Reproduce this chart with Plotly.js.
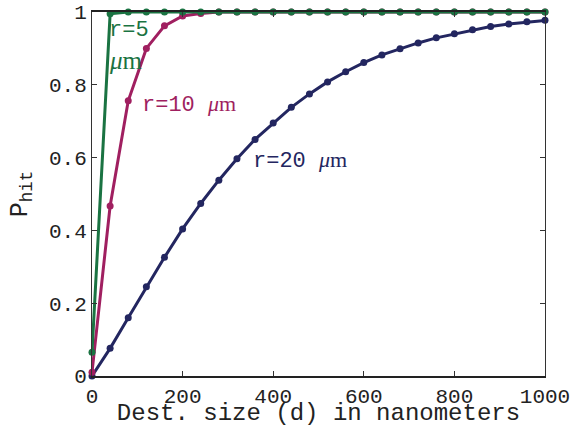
<!DOCTYPE html>
<html>
<head>
<meta charset="utf-8">
<script src="https://cdn.plot.ly/plotly-3.0.1.min.js"></script>
<style>html,body{margin:0;padding:0;background:#fff;}#chart{width:574px;height:427px;}</style>
</head>
<body>
<div id="chart"></div>
<script>
// Destination size d in nanometers (sample points every 40 nm)
const destSize = [0,40,80,120,160,200,240,280,320,360,400,440,480,520,560,600,640,680,720,760,800,840,880,920,960,1000];
// P_hit for r = 5 um
const pHitR5 = [0.065,0.995,1,1,1,1,1,1,1,1,1,1,1,1,1,1,1,1,1,1,1,1,1,1,1,1];
// P_hit for r = 10 um
const pHitR10 = [0.01,0.467,0.756,0.900,0.962,0.989,0.996,1,1,1,1,1,1,1,1,1,1,1,1,1,1,1,1,1,1,1];
// P_hit for r = 20 um
const pHitR20 = [0,0.076,0.160,0.245,0.326,0.404,0.474,0.538,0.597,0.650,0.695,0.738,0.775,0.808,0.836,0.861,0.882,0.899,0.915,0.929,0.940,0.951,0.960,0.967,0.973,0.977];

const xTicks = [0,200,400,600,800,1000];
const yTicks = [0,0.2,0.4,0.6,0.8,1];
const yTickText = ['0','0.2','0.4','0.6','0.8','1'];

const cGreen = '#1a7342';
const cMag = '#a01f60';
const cNavy = '#232660';
const mono = 'Liberation Mono, Courier New, monospace';

function series(y, color) {
  return {
    x: destSize, y: y, type: 'scatter', mode: 'lines+markers',
    line: {color: color, width: 3},
    marker: {color: color, size: 7},
    cliponaxis: false, showlegend: false, hoverinfo: 'skip'
  };
}

const data = [series(pHitR20, cNavy), series(pHitR10, cMag), series(pHitR5, cGreen)];

const mu = () => "<span style='font-family:Liberation Serif, Times New Roman, serif;font-style:italic'>μ</span><span style='font-family:Liberation Serif, Times New Roman, serif'>m</span>";

const layout = {
  width: 574, height: 427,
  margin: {l: 92, r: 29, t: 12, b: 51, pad: 0},
  paper_bgcolor: '#fff', plot_bgcolor: '#fff',
  font: {family: mono, size: 21, color: '#222'},
  xaxis: {
    range: [0, 1000], tickvals: xTicks, ticktext: xTicks.map(String),
    ticks: 'inside', ticklen: 5, tickcolor: '#333', tickwidth: 1,
    showline: true, linecolor: '#222', linewidth: 2, mirror: 'ticks',
    showgrid: false, zeroline: false,
    tickfont: {family: mono, size: 21, color: '#222'},
    title: {text: 'Dest. size (d) in nanometers', font: {family: mono, size: 24, color: '#222'}, standoff: 0}
  },
  yaxis: {
    range: [0, 1], tickvals: yTicks, ticktext: yTickText,
    ticks: 'inside', ticklen: 5, tickcolor: '#333', tickwidth: 1,
    showline: true, linecolor: '#333', linewidth: 1, mirror: 'ticks',
    showgrid: false, zeroline: false,
    tickfont: {family: mono, size: 21, color: '#222'},
    title: {text: 'P<sub>hit</sub>', font: {family: mono, size: 25, color: '#222'}, standoff: 14}
  },
  annotations: [
    {x: 34, y: 0.95, xref: 'x', yref: 'y', xanchor: 'left', yanchor: 'middle', showarrow: false,
     text: 'r=5', font: {family: mono, size: 22, color: cGreen}},
    {x: 34, y: 0.867, xref: 'x', yref: 'y', xanchor: 'left', yanchor: 'middle', showarrow: false,
     text: mu(), font: {family: mono, size: 25, color: cGreen}},
    {x: 107, y: 0.747, xref: 'x', yref: 'y', xanchor: 'left', yanchor: 'middle', showarrow: false,
     text: 'r=10 ' + mu(), font: {family: mono, size: 22, color: cMag}},
    {x: 350, y: 0.593, xref: 'x', yref: 'y', xanchor: 'left', yanchor: 'middle', showarrow: false,
     text: 'r=20 ' + mu(), font: {family: mono, size: 22, color: cNavy}}
  ]
};

Plotly.newPlot('chart', data, layout, {staticPlot: true, displayModeBar: false});
</script>
</body>
</html>
